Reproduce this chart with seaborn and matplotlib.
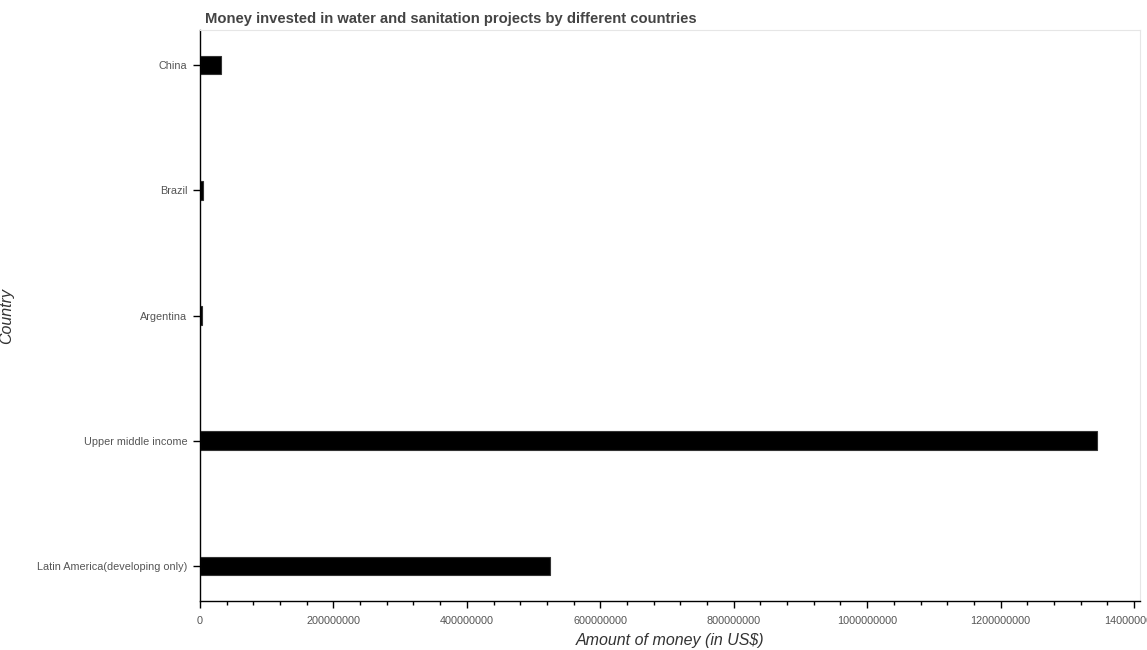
import pandas as pd
import matplotlib
matplotlib.use("Agg")
import matplotlib.pyplot as plt
import seaborn as sns
from matplotlib.ticker import MultipleLocator, FuncFormatter

# values (US$)
countries = ["China", "Brazil", "Argentina", "Upper middle income",
             "Latin America(developing only)"]
amounts = [31800000, 4200000, 2700000, 1344500000, 524000000]

df = pd.DataFrame({"Country": countries, "Amount": amounts})

sns.set_style("white")
plt.rcParams["font.family"] = ["Liberation Sans", "DejaVu Sans"]

fig = plt.figure(figsize=(11.47, 6.5), dpi=100)
ax = fig.add_axes([200 / 1147, 1 - 601 / 650, 940 / 1147, 571 / 650])

sns.barplot(data=df, x="Amount", y="Country", order=countries, orient="h",
            color="black", edgecolor="#333333", linewidth=0.8, width=0.15,
            saturation=1, ax=ax)

ax.set_xlim(0, 1.4e9 * 940 / 934)
ax.set_ylim(4.28, -0.28)
ax.xaxis.set_major_locator(MultipleLocator(2e8))
ax.xaxis.set_minor_locator(MultipleLocator(4e7))
ax.xaxis.set_major_formatter(FuncFormatter(lambda v, p: f"{int(v)}"))

ax.tick_params(axis="x", which="major", direction="out", length=5, width=1,
               color="black", labelsize=7.8, labelcolor="#555555", bottom=True,
               pad=6)
ax.tick_params(axis="x", which="minor", direction="out", length=3, width=1,
               color="black", bottom=True)
ax.tick_params(axis="y", direction="out", length=5, width=1, color="black",
               labelsize=7.8, labelcolor="#555555", left=True, pad=4)

for side in ["top", "right"]:
    ax.spines[side].set_color("#e6e6e6")
    ax.spines[side].set_linewidth(0.8)
for side in ["left", "bottom"]:
    ax.spines[side].set_color("black")
    ax.spines[side].set_linewidth(1)

ax.set_xlabel("Amount of money (in US$)", fontsize=11.5, style="italic",
              color="#333333", labelpad=5)
ax.set_ylabel("Country", fontsize=11.5, style="italic", color="#333333")
ax.yaxis.set_label_coords(-186 / 940, 0.5)
ax.set_title("Money invested in water and sanitation projects by different countries",
             fontsize=10.6, fontweight="bold", color="#444444", loc="left",
             pad=5, x=0.005)

fig.savefig("out.png", dpi=100)
